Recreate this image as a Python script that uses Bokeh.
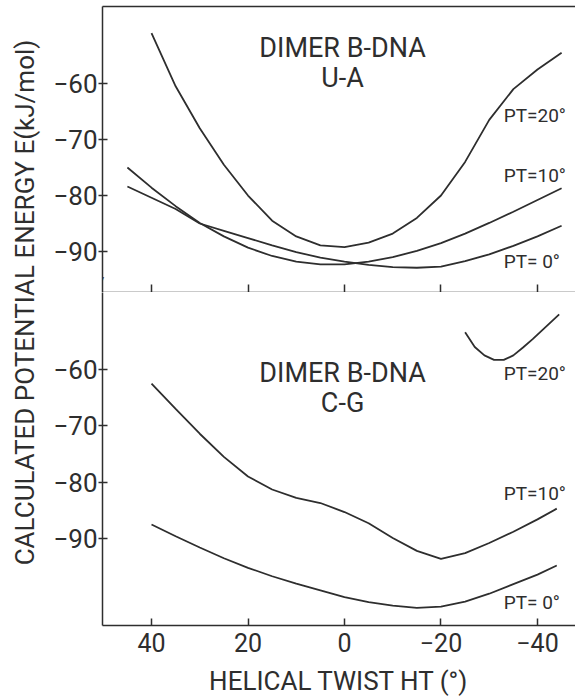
import math
from bokeh.plotting import figure
from bokeh.models import Range1d, FixedTicker, Label, LinearAxis
from bokeh.layouts import row, column
from bokeh.embed import file_html
from bokeh.resources import INLINE

FONT = "Roboto"
INK = "#2e2e2e"

# ---------------- data ----------------
x_ticks = [40, 20, 0, -20, -40]
y_ticks = [-60, -70, -80, -90]

# Upper panel: dimer B-DNA U-A
ua_ht_pt20 = [40, 35, 30, 25, 20, 15, 10, 5, 0, -5, -10, -15, -20, -25, -30, -35, -40, -45]
ua_e_pt20 = [-51.0, -60.5, -68.0, -74.5, -80.0, -84.5, -87.3, -88.9, -89.2, -88.4, -86.8,
             -84.0, -80.0, -74.0, -66.5, -61.0, -57.5, -54.5]

ua_ht = [45, 40, 35, 30, 25, 20, 15, 10, 5, 0, -5, -10, -15, -20, -25, -30, -35, -40, -45]
ua_e_pt10 = [-75.0, -78.6, -81.9, -84.9, -87.3, -89.3, -90.8, -91.8, -92.3, -92.3, -91.8,
             -91.0, -89.9, -88.5, -86.8, -84.9, -82.9, -80.8, -78.7]
ua_e_pt0 = [-78.4, -80.4, -82.4, -85.0, -86.3, -87.6, -88.9, -90.1, -91.1, -91.8, -92.4,
            -92.8, -92.9, -92.7, -91.7, -90.5, -89.0, -87.3, -85.4]

# Lower panel: dimer B-DNA C-G
cg_ht = [40, 35, 30, 25, 20, 15, 10, 5, 0, -5, -10, -15, -20, -25, -30, -35, -40, -44]
cg_e_pt10 = [-62.5, -67.0, -71.4, -75.5, -79.0, -81.3, -82.8, -83.7, -85.3, -87.3, -89.9,
             -92.2, -93.6, -92.6, -90.8, -88.8, -86.6, -84.7]
cg_e_pt0 = [-87.5, -89.6, -91.6, -93.5, -95.2, -96.7, -98.0, -99.2, -100.4, -101.3, -101.9,
            -102.3, -102.1, -101.2, -99.8, -98.1, -96.4, -94.8]
cg_ht_pt20 = [-25, -27, -29, -31, -33, -35, -37, -39, -41, -43, -44.5]
cg_e_pt20 = [-53.4, -56.0, -57.5, -58.3, -58.3, -57.5, -56.1, -54.6, -53.0, -51.4, -50.2]

pt_labels = ["PT=20\u00b0", "PT=10\u00b0", "PT= 0\u00b0"]
ua_label_e = [-65.7, -76.4, -91.8]
cg_label_e = [-60.7, -82.0, -101.4]
label_ht = -33.0

# ---------------- layout ----------------
FW = 473
X_RANGE = (50.16, -47.88)
LEFT = 54


def base_panel(y_lo, y_hi, frame_h, top, bottom):
    p = figure(frame_width=FW, frame_height=frame_h,
               x_range=Range1d(*X_RANGE), y_range=Range1d(y_lo, y_hi),
               output_backend="svg", toolbar_location=None,
               min_border_left=LEFT, min_border_right=0,
               min_border_top=top, min_border_bottom=bottom)
    p.outline_line_color = None
    p.grid.visible = False
    p.background_fill_color = "white"
    p.border_fill_color = "white"
    ya = p.yaxis[0]
    ya.ticker = FixedTicker(ticks=y_ticks)
    ya.major_label_text_font = FONT
    ya.major_label_text_font_size = "26px"
    ya.major_label_text_color = INK
    ya.major_tick_in = 5
    ya.major_tick_out = 4
    ya.minor_tick_in = 0
    ya.minor_tick_out = 0
    ya.major_label_standoff = 1
    ya.axis_line_color = INK
    ya.axis_line_width = 1.5
    ya.major_tick_line_color = INK
    ya.major_tick_line_width = 1.5
    xa = p.xaxis[0]
    xa.axis_line_color = INK
    xa.axis_line_width = 1.5
    xa.major_tick_line_color = INK
    xa.major_tick_line_width = 1.5
    xa.minor_tick_line_color = INK
    xa.minor_tick_line_width = 1.5
    xa.major_tick_out = 0
    xa.minor_tick_out = 0
    return p


def add_text(p, x, y, txt, size, align="center"):
    p.add_layout(Label(x=x, y=y, text=txt, text_font=FONT, text_font_size=size,
                       text_color=INK, text_align=align, text_baseline="middle"))


# Upper panel (ticks without labels: given as minor ticks)
p1 = base_panel(-97.32, -46.25, 286, 6, 0)
p1.xaxis[0].ticker = FixedTicker(ticks=[], minor_ticks=x_ticks)
p1.xaxis[0].minor_tick_in = 8
p1.xaxis[0].major_tick_in = 0
p1.xaxis[0].major_label_standoff = 0
top_axis = LinearAxis(ticker=FixedTicker(ticks=[]),
                      major_label_standoff=0, major_tick_in=0, major_tick_out=0,
                      minor_tick_in=0, minor_tick_out=0,
                      axis_line_color=INK, axis_line_width=1.5)
p1.add_layout(top_axis, "above")

for ht, e in [(ua_ht_pt20, ua_e_pt20), (ua_ht, ua_e_pt10), (ua_ht, ua_e_pt0)]:
    p1.line(ht, e, line_color=INK, line_width=1.8)

add_text(p1, 0.4, -53.6, "DIMER B-DNA", "27px")
add_text(p1, 0.4, -59.1, "U-A", "27px")
for txt, e in zip(pt_labels, ua_label_e):
    add_text(p1, label_ht, e, txt, "19px", "left")
add_text(p1, X_RANGE[0] + 0.6, -95.4, "//", "13px")

# Lower panel
p2 = base_panel(-105.44, -46.33, 333, 0, 70)
xa2 = p2.xaxis[0]
xa2.ticker = FixedTicker(ticks=x_ticks)
xa2.major_tick_in = 7
xa2.minor_tick_in = 0
xa2.major_label_text_font = FONT
xa2.major_label_text_font_size = "25px"
xa2.major_label_text_color = INK
xa2.major_label_standoff = 7
xa2.axis_label = "HELICAL TWIST HT (\u00b0)"
xa2.axis_label_text_font = FONT
xa2.axis_label_text_font_size = "26px"
xa2.axis_label_text_font_style = "normal"
xa2.axis_label_text_color = INK
xa2.axis_label_standoff = 11

for ht, e in [(cg_ht_pt20, cg_e_pt20), (cg_ht, cg_e_pt10), (cg_ht, cg_e_pt0)]:
    p2.line(ht, e, line_color=INK, line_width=1.8)

add_text(p2, 0.4, -60.7, "DIMER B-DNA", "27px")
add_text(p2, 0.4, -65.9, "C-G", "27px")
for txt, e in zip(pt_labels, cg_label_e):
    add_text(p2, label_ht, e, txt, "19px", "left")

# Shared y-axis title
H = 292 + 403
TW = 48
pt = figure(width=TW, height=H, x_range=Range1d(0, TW), y_range=Range1d(H, 0),
            output_backend="svg", toolbar_location=None,
            min_border=0, min_border_left=0, min_border_right=0,
            min_border_top=0, min_border_bottom=0)
pt.axis.visible = False
pt.grid.visible = False
pt.outline_line_color = None
pt.add_layout(Label(x=24, y=302, text="CALCULATED POTENTIAL ENERGY E(kJ/mol)",
                    angle=math.pi / 2, text_font=FONT, text_font_size="26px",
                    text_color=INK, text_align="center", text_baseline="middle"))

layout = row(pt, column(p1, p2))
open("out.html", "w").write(file_html(layout, INLINE))
